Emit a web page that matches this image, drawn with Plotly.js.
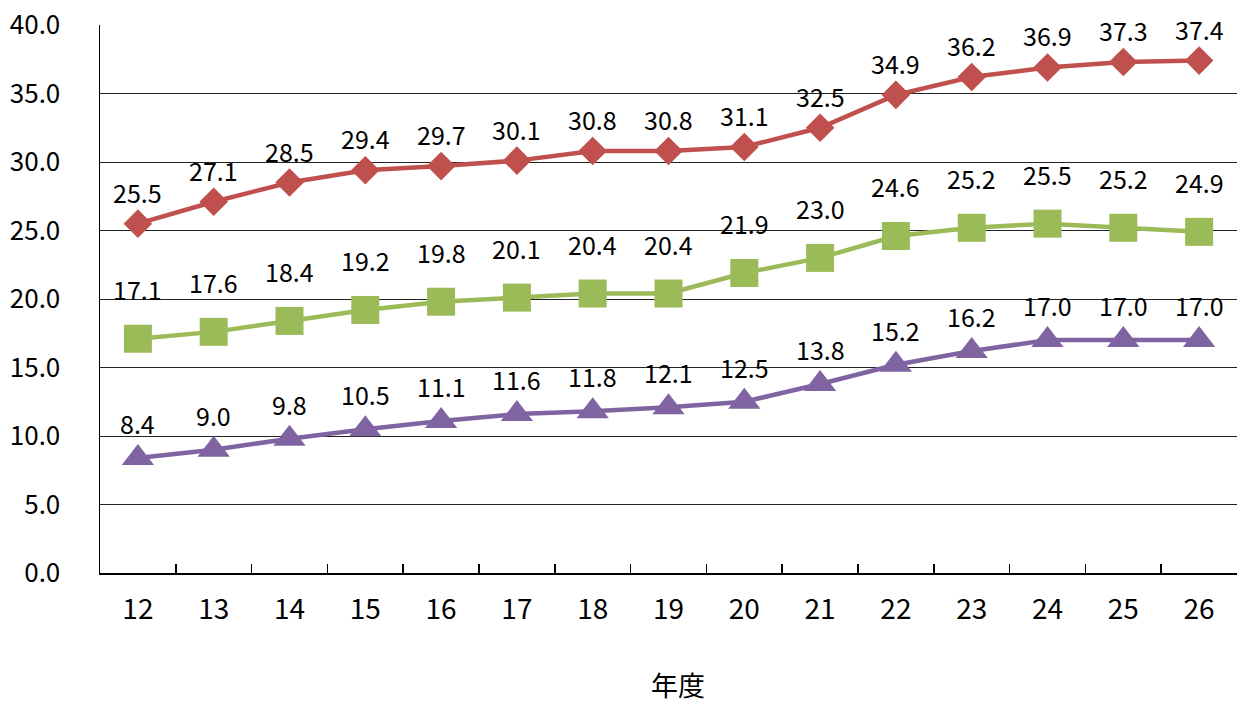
<!DOCTYPE html>
<html>
<head>
<meta charset="utf-8">
<script src="https://cdn.plot.ly/plotly-3.0.1.min.js"></script>
<style>html,body{margin:0;padding:0;background:#fff;}#chart{width:1239px;height:704px;}</style>
</head>
<body>
<div id="chart"></div>
<script>
const years = ["12","13","14","15","16","17","18","19","20","21","22","23","24","25","26"];
const seriesRed = [25.5,27.1,28.5,29.4,29.7,30.1,30.8,30.8,31.1,32.5,34.9,36.2,36.9,37.3,37.4];
const seriesGreen = [17.1,17.6,18.4,19.2,19.8,20.1,20.4,20.4,21.9,23.0,24.6,25.2,25.5,25.2,24.9];
const seriesPurple = [8.4,9.0,9.8,10.5,11.1,11.6,11.8,12.1,12.5,13.8,15.2,16.2,17.0,17.0,17.0];
const yTicks = [0,5,10,15,20,25,30,35,40];

const FONT = "'Noto Sans CJK JP', 'Noto Sans', sans-serif";
const series = [
  {y: seriesRed, color: '#C0504D', symbol: 'diamond', size: 22, shift: 32},
  {y: seriesGreen, color: '#9BBB59', symbol: 'square', size: 28, shift: 50},
  {y: seriesPurple, color: '#8064A2', symbol: 'triangle-up', size: 28, shift: 35}
];

const traces = series.map(s => ({
  type: 'scatter', mode: 'lines+markers', x: years, y: s.y,
  line: {color: s.color, width: 4.5},
  marker: {symbol: s.symbol, size: s.size, color: s.color},
  hoverinfo: 'x+y', showlegend: false, cliponaxis: false
}));

const annotations = [];
series.forEach(s => {
  s.y.forEach((v, i) => {
    annotations.push({x: i, y: v, xref: 'x', yref: 'y', text: v.toFixed(1),
      showarrow: false, yshift: s.shift, font: {family: FONT, size: 25, color: '#000'}});
  });
});
annotations.push({x: 0.5, y: 0, xref: 'paper', yref: 'paper', yshift: -133, xshift: 9, text: '年度',
  showarrow: false, font: {family: FONT, size: 27, color: '#000'}});

const layout = {
  width: 1239, height: 704,
  margin: {l: 100, r: 2, t: 25, b: 131},
  paper_bgcolor: '#fff', plot_bgcolor: '#fff',
  font: {family: FONT, size: 25, color: '#000'},
  xaxis: {type: 'category', range: [-0.5, 14.5], autorange: false, tickson: 'boundaries', ticks: 'inside', ticklen: 9, tickcolor: '#000', tickwidth: 1.5,
    showline: true, linecolor: '#000', linewidth: 1.5, showgrid: false, zeroline: false,
    tickfont: {family: FONT, size: 28, color: '#000'}, ticklabelstandoff: 11},
  yaxis: {range: [0, 40], autorange: false, tickvals: yTicks, ticktext: yTicks.map(v => v.toFixed(1)),
    showline: true, linecolor: '#000', linewidth: 1.5, showgrid: true, gridcolor: '#222', gridwidth: 1,
    zeroline: false, ticks: '', tickfont: {family: FONT, size: 26, color: '#000'}, ticklabelstandoff: 33},
  annotations: annotations
};

Plotly.newPlot('chart', traces, layout, {displayModeBar: false, staticPlot: true});
</script>
</body>
</html>
